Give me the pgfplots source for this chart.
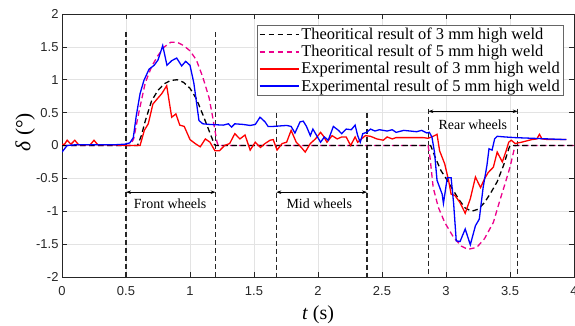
\documentclass[border=0pt]{standalone}
\usepackage{fontspec}
\setmainfont{Liberation Serif}
\newfontfamily\arial{Liberation Sans}
\usepackage{pgfplots}
\pgfplotsset{compat=1.18}
\usetikzlibrary{arrows.meta}

\definecolor{axisgray}{gray}{0.15}

\begin{document}
\begin{tikzpicture}
\useasboundingbox (-62bp,-49bp) rectangle (513bp,277bp);
\begin{axis}[
  at={(0,0)}, anchor=south west,
  scale only axis, width=512bp, height=263bp,
  xmin=0, xmax=4, ymin=-2, ymax=2,
  xtick={0,0.5,1,1.5,2,2.5,3,3.5,4},
  ytick={-2,-1.5,-1,-0.5,0,0.5,1,1.5,2},
  xticklabels={0,0.5,1,1.5,2,2.5,3,3.5,4},
  yticklabels={-2,-1.5,-1,-0.5,0,0.5,1,1.5,2},
  tick label style={font=\arial\fontsize{13}{15}\selectfont, text=axisgray},
  xticklabel style={yshift=-6bp},
  grid=major, major grid style={gray!22, line width=0.5bp},
  axis line style={axisgray, line width=0.6bp},
  tick style={axisgray, line width=0.6bp}, major tick length=5bp, tick align=inside,
  xlabel={\textit{t} (s)}, ylabel={\textit{δ} (°)},
  label style={font=\fontsize{20}{24}\selectfont},
  xlabel style={at={(axis description cs:0.5,-0.144)}, anchor=center},
  ylabel style={at={(axis description cs:-0.072,0.55)}, anchor=center,
    font=\fontsize{21.5}{24}\selectfont},
  legend style={at={(axis description cs:1,1)}, anchor=north east,
    xshift=-10bp, yshift=-11bp,
    font=\fontsize{16.5}{18.5}\selectfont,
    draw=black!60, line width=0.6bp,
    cells={anchor=west}, inner xsep=2bp, inner ysep=1bp, row sep=0pt},
  legend image code/.code={\draw[#1] (0bp,0bp) -- (39bp,0bp);},
]

% legend entries
\addlegendimage{black, line width=1.3bp, dash pattern=on 5.5bp off 3.5bp}
\addlegendentry{Theoritical result of 3 mm high weld}
\addlegendimage{magenta, line width=1.3bp, dash pattern=on 5.5bp off 3.5bp}
\addlegendentry{Theoritical result of 5 mm high weld}
\addlegendimage{red, line width=1.3bp}
\addlegendentry{Experimental result of 3 mm high weld}
\addlegendimage{blue, line width=1.3bp}
\addlegendentry{Experimental result of 5 mm high weld}

% wheel passage boundaries
\pgfplotsset{wheelline/.style={forget plot, axisgray, line width=1.2bp, dash pattern=on 5bp off 3bp}}
\addplot[wheelline] coordinates {(0.5,1.72) (0.5,-2)};
\addplot[wheelline] coordinates {(1.2,1.72) (1.2,-2)};
\addplot[wheelline] coordinates {(1.674,0.5) (1.674,-2)};
\addplot[wheelline] coordinates {(2.383,0.5) (2.383,-2)};
\addplot[wheelline] coordinates {(2.862,0.56) (2.862,-2)};
\addplot[wheelline] coordinates {(3.56,0.56) (3.56,-2)};

\pgfplotsset{span/.style={forget plot, black, line width=0.8bp, {Stealth[length=5bp,width=3.5bp]}-{Stealth[length=5bp,width=3.5bp]}}}
\addplot[span] coordinates {(0.5,-0.71) (1.2,-0.71)};
\addplot[span] coordinates {(1.674,-0.71) (2.383,-0.71)};
\addplot[span] coordinates {(2.862,0.52) (3.56,0.52)};

\node[font=\fontsize{14}{16}\selectfont] at (axis cs:0.845,-0.89) {Front wheels};
\node[font=\fontsize{14}{16}\selectfont] at (axis cs:2.01,-0.89) {Mid wheels};
\node[font=\fontsize{14}{16}\selectfont] at (axis cs:3.21,0.32) {Rear wheels};

% theoretical, 5 mm
\addplot[forget plot, magenta, line width=1.3bp, dash pattern=on 5.5bp off 3.5bp] coordinates {
(0,0) (0.53,0) (0.56,0.1) (0.6,0.5) (0.65,0.95) (0.7,1.2) (0.75,1.37) (0.8,1.5)
(0.85,1.57) (0.9,1.57) (0.95,1.52) (1.0,1.44) (1.05,1.3) (1.1,1.04) (1.15,0.72)
(1.18,0.4) (1.21,0.06) (1.22,0) (2.86,0) (2.875,-0.18) (2.90,-0.64) (2.94,-0.94)
(2.99,-1.17) (3.06,-1.40) (3.12,-1.53) (3.17,-1.58) (3.24,-1.55) (3.30,-1.42)
(3.37,-1.17) (3.42,-0.84) (3.46,-0.59) (3.50,-0.33) (3.53,-0.08) (3.54,0) (4,0)};

% theoretical, 3 mm
\addplot[forget plot, black, line width=1.3bp, dash pattern=on 5.5bp off 3.5bp] coordinates {
(0,0) (0.59,0) (0.62,0.15) (0.65,0.37) (0.70,0.68) (0.75,0.84) (0.80,0.94)
(0.85,0.99) (0.90,1.0) (0.95,0.96) (1.0,0.87) (1.05,0.71) (1.10,0.47) (1.15,0.22)
(1.19,0.02) (1.2,0) (2.88,0) (2.92,-0.2) (2.96,-0.38) (3.0,-0.5) (3.05,-0.66)
(3.1,-0.82) (3.15,-0.95) (3.2,-1.0) (3.25,-0.97) (3.3,-0.87) (3.35,-0.72)
(3.40,-0.55) (3.45,-0.3) (3.49,-0.05) (3.5,0) (4,0)};

% experimental, 3 mm
\addplot[forget plot, red, line width=1.3bp] coordinates {
(0,0.02) (0.02,0.02) (0.04,0.08) (0.07,0.02) (0.10,0.08) (0.13,0.01) (0.22,0.01)
(0.25,0.08) (0.28,0.01) (0.4,0.01) (0.5,0.0) (0.61,0.0) (0.643,0.23) (0.674,0.33)
(0.71,0.63) (0.74,0.70) (0.78,0.79) (0.818,0.91) (0.857,0.43) (0.89,0.48)
(0.92,0.31) (0.955,0.29) (1.0,0.09) (1.04,0.03) (1.08,-0.02) (1.12,0.10)
(1.156,0.05) (1.195,-0.08) (1.23,-0.08) (1.27,0.0) (1.31,0.03) (1.35,0.18)
(1.39,0.10) (1.43,0.16) (1.47,-0.07) (1.51,0.05) (1.55,-0.03) (1.586,0.03)
(1.625,0.08) (1.65,0.09) (1.68,-0.07) (1.72,0.03) (1.755,0.05) (1.79,0.23)
(1.83,0.05) (1.87,-0.03) (1.90,-0.10) (1.94,0.03) (1.98,0.10) (2.0,0.15)
(2.02,0.20) (2.04,0.15) (2.07,0.05) (2.11,0.15) (2.15,0.10) (2.185,0.13)
(2.22,0.13) (2.255,0.0) (2.29,0.13) (2.31,0.05) (2.37,0.15) (2.41,0.14)
(2.46,0.10) (2.51,0.08) (2.54,0.13) (2.58,0.10) (2.61,0.12) (2.69,0.12)
(2.77,0.12) (2.82,0.12) (2.86,0.11) (2.90,0.14) (2.93,0.17) (2.95,-0.08)
(2.99,-0.28) (3.02,-0.53) (3.04,-0.74) (3.07,-0.76) (3.11,-0.87) (3.15,-1.03)
(3.19,-0.81) (3.23,-0.48) (3.27,-0.64) (3.30,-0.51) (3.33,-0.41) (3.37,-0.33)
(3.40,-0.10) (3.44,-0.25) (3.47,-0.08) (3.49,0.05) (3.51,0.08) (3.54,0.03)
(3.59,0.05) (3.67,0.09) (3.71,0.10) (3.73,0.17) (3.75,0.10) (3.80,0.09) (3.94,0.09)};

% experimental, 5 mm
\addplot[forget plot, blue, line width=1.3bp] coordinates {
(0,-0.1) (0.04,0.0) (0.1,0.01) (0.2,0.01) (0.3,0.01) (0.4,0.01) (0.49,0.02)
(0.53,0.04) (0.557,0.12) (0.58,0.45) (0.61,0.79) (0.64,0.99) (0.68,1.16)
(0.72,1.22) (0.75,1.30) (0.787,1.52) (0.82,1.22) (0.857,1.29) (0.896,1.33)
(0.935,1.21) (0.966,1.28) (1.0,1.22) (1.03,0.95) (1.07,0.38) (1.10,0.33)
(1.156,0.32) (1.26,0.31) (1.30,0.33) (1.325,0.28) (1.35,0.33) (1.416,0.32)
(1.47,0.305) (1.51,0.32) (1.547,0.43) (1.586,0.36) (1.61,0.29) (1.65,0.29)
(1.755,0.305) (1.79,0.29) (1.82,0.19) (1.86,0.36) (1.885,0.37) (1.91,0.29)
(1.94,0.15) (1.96,0.25) (1.99,0.15) (2.02,0.05) (2.05,0.13) (2.08,0.08)
(2.12,0.29) (2.16,0.23) (2.185,0.18) (2.22,0.25) (2.26,0.24) (2.29,0.31)
(2.31,0.15) (2.33,0.05) (2.35,0.18) (2.38,0.20) (2.41,0.25) (2.445,0.22)
(2.48,0.24) (2.54,0.22) (2.58,0.24) (2.61,0.20) (2.67,0.23) (2.72,0.22)
(2.77,0.21) (2.81,0.23) (2.85,0.19) (2.87,0.20) (2.89,0.13) (2.91,-0.1)
(2.93,-0.53) (2.97,-0.74) (2.98,-0.88) (3.01,-0.49) (3.04,-0.49) (3.06,-0.89)
(3.08,-1.45) (3.11,-1.46) (3.15,-1.27) (3.19,-1.51) (3.23,-1.22) (3.26,-1.12)
(3.29,-0.64) (3.32,-0.3) (3.336,-0.05) (3.36,-0.07) (3.38,0.10) (3.40,0.14)
(3.46,0.13) (3.54,0.12) (3.67,0.11) (3.80,0.10) (3.94,0.09)};

\end{axis}
\end{tikzpicture}
\end{document}
